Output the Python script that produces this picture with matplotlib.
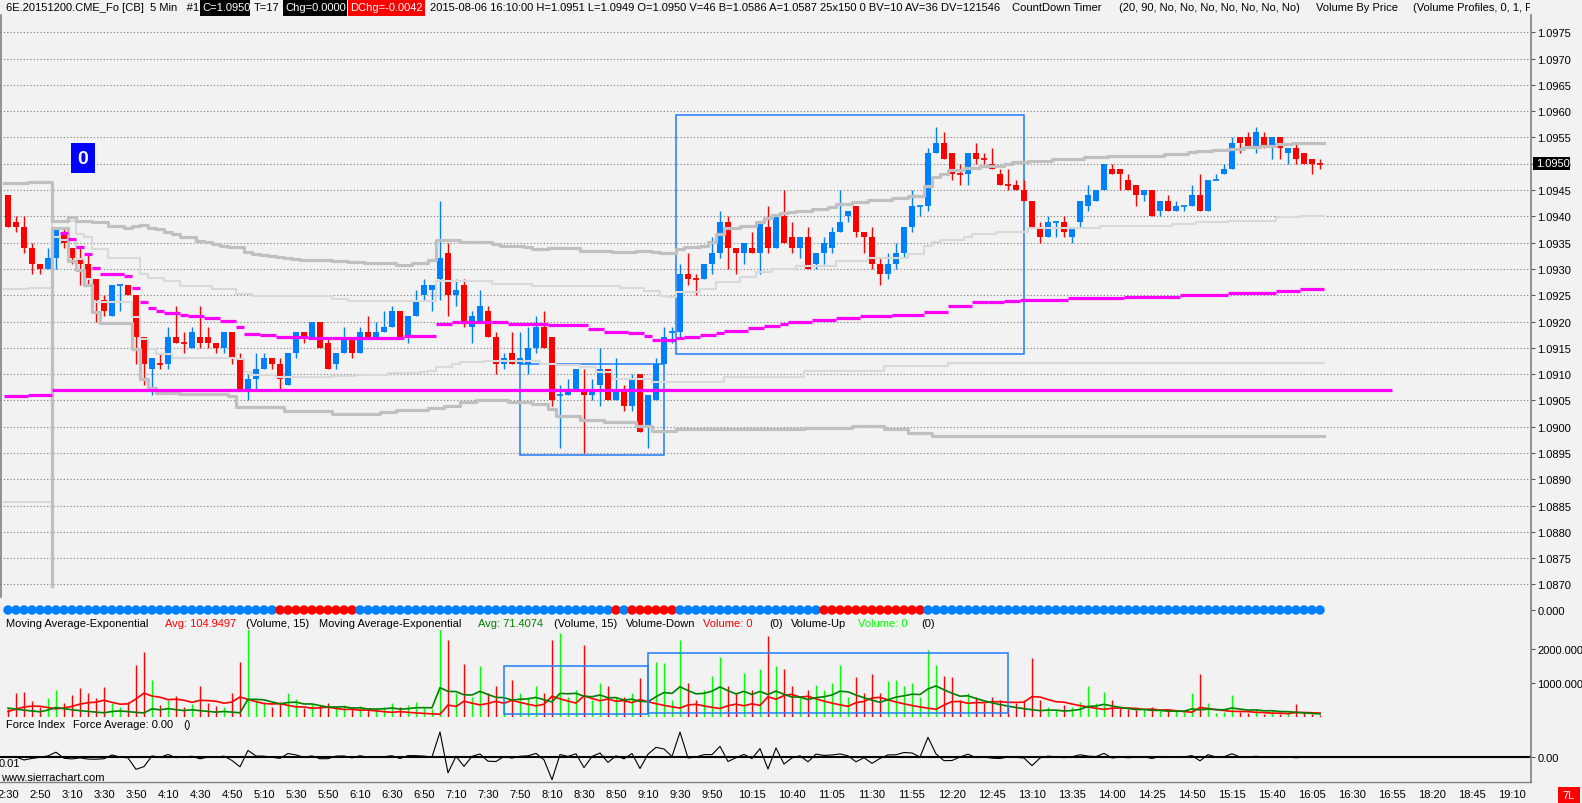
import numpy as np
import matplotlib
matplotlib.use("Agg")
import matplotlib.pyplot as plt
from matplotlib.patches import Rectangle

W, H = 1582, 804
BASE = 1.0900      # prices below are in ticks above this level
TICK = 0.0001
BG = "#f2f2f2"
BLUE = "#0080ff"
RED = "#ff0000"
FS = 8

# 5 min bars, 2:30 .. 16:10
opens = [44, 39, 38, 34, 31, 30, 32, 37, 34, 32, 31, 28, 24, 21, 27, 27, 25, 17, 11, 12,
         12, 17, 16, 15, 17, 17, 16, 15, 18, 13, 7, 9, 11, 13, 12, 8, 14, 18, 17, 20,
         16, 12, 14, 17, 14, 18, 17, 18, 19, 22, 17, 21, 25, 26, 28, 33, 25, 27, 19, 20,
         22, 17, 12, 14, 12, 12, 15, 19, 17, 6, 6, 7, 7, 6, 8, 11, 5, 7, 4, 10,
         0, 5, 12, 18, 18, 29, 28, 28, 31, 33, 39, 34, 33, 34, 33, 38, 34, 40, 36, 34,
         36, 31, 33, 34, 37, 40, 42, 37, 36, 31, 29, 31, 33, 38, 42, 42, 52, 54, 52, 48,
         48, 52, 51, 50, 48, 46, 46, 45, 43, 38, 36, 39, 39, 36, 39, 42, 43, 45, 49, 49,
         47, 46, 44, 45, 41, 43, 41, 42, 42, 44, 41, 47, 48, 49, 55, 55, 53, 55, 53, 55,
         52, 53, 52, 51, 50]
highs = [44, 40, 40, 35, 31, 34, 38, 38, 34, 34, 33, 28, 25, 27, 27, 27, 25, 17, 13, 14,
         19, 23, 18, 19, 23, 19, 16, 18, 18, 14, 10, 14, 14, 13, 13, 14, 18, 18, 20, 20,
         17, 14, 19, 17, 19, 21, 20, 22, 23, 22, 21, 26, 28, 27, 43, 35, 28, 28, 22, 26,
         23, 18, 14, 18, 18, 19, 21, 22, 17, 8, 9, 11, 11, 9, 15, 11, 13, 8, 10, 10,
         6, 13, 19, 19, 31, 33, 29, 31, 36, 41, 40, 34, 35, 37, 39, 42, 40, 45, 39, 36,
         38, 33, 36, 38, 45, 41, 42, 37, 38, 32, 33, 35, 38, 45, 42, 53, 57, 56, 52, 50,
         52, 54, 52, 53, 49, 49, 47, 47, 43, 39, 40, 39, 40, 38, 43, 46, 45, 50, 50, 49,
         48, 46, 45, 45, 43, 44, 43, 42, 46, 48, 47, 48, 50, 55, 55, 56, 57, 56, 55, 55,
         53, 54, 52, 51, 51]
lows = [38, 37, 33, 29, 29, 30, 30, 34, 31, 27, 27, 20, 21, 21, 22, 25, 12, 8, 6, 11,
        11, 16, 14, 15, 15, 15, 14, 14, 12, 7, 5, 7, 11, 11, 7, 8, 13, 16, 17, 15,
        11, 11, 14, 13, 14, 17, 17, 18, 19, 17, 16, 21, 24, 22, 24, 21, 23, 19, 16, 20,
        17, 10, 11, 12, 12, 10, 14, 15, 4, -4, 6, 7, -5, 5, 4, 5, 5, 3, 3, -1,
        -4, 5, 12, 16, 17, 27, 25, 28, 29, 32, 30, 29, 31, 33, 29, 33, 34, 35, 33, 32,
        30, 30, 31, 33, 37, 39, 36, 33, 30, 27, 28, 30, 32, 37, 40, 41, 52, 51, 47, 46,
        46, 50, 50, 49, 46, 45, 45, 43, 38, 35, 36, 36, 36, 35, 38, 41, 43, 45, 48, 45,
        45, 42, 43, 40, 40, 41, 41, 41, 42, 41, 41, 47, 48, 49, 52, 53, 52, 53, 51, 51,
        50, 50, 50, 48, 49]
closes = [38, 38, 34, 31, 30, 32, 38, 35, 32, 31, 28, 24, 22, 27, 27, 25, 17, 12, 13, 12,
          17, 16, 16, 18, 16, 16, 15, 18, 13, 7, 9, 11, 13, 12, 9, 14, 18, 17, 20, 15,
          11, 14, 17, 14, 18, 17, 18, 19, 22, 17, 21, 24, 27, 27, 32, 25, 26, 20, 21, 23,
          17, 12, 13, 12, 13, 15, 19, 15, 5, 6, 7, 11, 6, 7, 11, 5, 7, 4, 9, -1,
          6, 12, 17, 18, 29, 28, 28, 31, 33, 39, 34, 33, 35, 33, 39, 34, 40, 35, 34, 36,
          30, 33, 35, 37, 39, 41, 37, 36, 31, 29, 31, 33, 38, 42, 42, 52, 54, 51, 48, 48,
          52, 51, 51, 49, 46, 46, 45, 43, 38, 36, 39, 39, 37, 38, 43, 44, 45, 50, 48, 48,
          45, 44, 45, 40, 43, 41, 42, 42, 44, 41, 47, 47, 49, 54, 54, 53, 56, 53, 55, 53,
          53, 51, 50, 50, 50]
doji_up = [14, 69, 83, 114, 131, 147, 151]

volumes = [250, 720, 740, 480, 300, 560, 800, 420, 650, 850, 700, 560, 880, 420, 300, 450, 1540, 1920, 1090, 350,
           500, 620, 280, 380, 910, 420, 330, 300, 700, 1630, 3300, 500, 420, 300, 450, 700, 520, 260, 380, 350,
           420, 300, 350, 280, 320, 240, 220, 300, 420, 300, 350, 450, 300, 250, 5000, 2260, 700, 1560, 600, 1510,
           700, 900, 500, 1100, 700, 600, 900, 700, 2270, 2460, 600, 800, 2120, 500, 1000, 900, 600, 600, 700, 1150,
           400, 1610, 1600, 500, 2260, 1000, 500, 800, 1200, 1770, 900, 700, 1300, 800, 1400, 2390, 1500, 1410, 900, 600,
           800, 950, 800, 1000, 1540, 600, 1190, 700, 1280, 700, 1050, 1100, 900, 1000, 600, 1970, 1540, 1215, 1170, 500,
           700, 600, 400, 600, 500, 300, 400, 500, 1735, 500, 300, 200, 350, 300, 450, 920, 400, 725, 500, 300,
           250, 200, 250, 300, 200, 250, 200, 150, 715, 1280, 400, 120, 150, 650, 150, 120, 250, 80, 200, 100,
           120, 380, 120, 80, 46]
ema_seed_down = 150
ema_seed_up = 300
ema_len = 15

# developing volume profile lines: bar where a level starts, level in ticks
vah_start = [0, 3, 6, 8, 9, 11, 13, 15, 16, 17, 18, 19, 20, 21, 22, 24, 25, 26, 27, 28,
             30, 31, 32, 33, 34, 35, 36, 37, 41, 43, 45, 49, 51, 53, 54, 57, 61, 62, 65, 66,
             68, 72, 76, 79, 81, 82, 84, 85, 87, 88, 89, 90, 92, 94, 95, 96, 97, 98, 99, 101,
             103, 104, 106, 108, 111, 113, 115, 116, 117, 118, 120, 122, 125, 126, 128, 131, 135, 138, 145, 148,
             149, 151, 153, 155, 157, 159, 161]
vah_val = [46.3, 46.6, 39.1, 39.9, 39.1, 38.9, 38.2, 37.8, 38.2, 38.35, 37.8, 37.6, 37.0, 36.6, 36.1, 35.3, 35.1, 34.7, 34.4, 34.2,
           33.2, 32.8, 32.65, 32.5, 32.3, 32.1, 31.9, 31.7, 31.5, 31.3, 31.1, 30.75, 31.1, 31.7, 35.5, 35.1, 34.7, 34.4, 34.2, 33.8,
           34.0, 33.4, 33.2, 33.4, 33.2, 33.0, 33.8, 34.2, 34.4, 35.1, 36.6, 37.8, 38.2, 38.9, 39.7, 40.3, 40.6, 40.8, 41.0, 41.4,
           41.8, 42.35, 42.7, 43.1, 43.5, 43.9, 45.8, 47.5, 48.05, 48.8, 49.2, 49.6, 49.95, 50.3, 50.5, 50.9, 51.3, 51.5, 51.85, 52.2,
           52.4, 52.6, 52.8, 53.2, 53.4, 53.75, 53.95]
val_start = [6, 6, 8, 9, 10, 11, 12, 16, 17, 18, 19, 22, 28, 29, 35, 41, 47, 49, 53, 55,
             57, 59, 63, 66, 68, 69, 72, 75, 79, 81, 84, 100, 106, 110, 113, 116]
val_val = [-30.3, 37.8, 31.5, 29.8, 26.9, 21.8, 19.7, 14.8, 9.1, 7.4, 6.4, 6.2, 5.8, 3.7, 3.0, 2.4, 2.8, 3.2, 3.55, 3.9,
           4.7, 5.1, 4.7, 4.3, 3.35, 2.0, 1.3, 0.9, 0.1, -0.8, -0.45, -0.3, 0.1, -0.45, -1.2, -1.8]
tu_start = [0, 3, 6, 9, 10, 11, 13, 17, 18, 20, 22, 26, 29, 31, 41, 43, 54, 61, 66, 77,
            80, 82, 83, 84, 87, 89, 92, 94, 96, 99, 104, 108, 113, 115, 116, 117, 120, 121, 124, 128,
            137, 146, 149, 153, 159, 162]
tu_val = [26.2, 26.4, 39.1, 36.6, 36.1, 33.8, 32.1, 29.0, 28.3, 27.7, 26.75, 26.2, 25.2, 24.85, 24.3, 23.9, 27.7, 27.1, 26.75, 26.4,
          25.8, 24.85, 24.7, 25.6, 26.2, 27.5, 28.5, 29.4, 29.95, 30.6, 31.5, 32.1, 32.8, 34.4, 35.1, 35.5, 36.1, 36.6, 37.0, 37.8,
          38.2, 38.5, 38.9, 39.1, 39.9, 40.1]
tl_start = [0, 6, 7, 9, 10, 11, 16, 17, 18, 19, 21, 29, 30, 31, 34, 41, 44, 48, 52, 53,
            54, 56, 57, 60, 67, 69, 72, 74, 76, 81, 90, 100, 110, 118]
tl_val = [-14.3, 36.1, 35.5, 31.9, 28.0, 23.7, 20.85, 16.7, 14.8, 13.85, 13.1, 12.9, 10.4, 9.8, 9.45, 9.6, 9.8, 10.2, 10.4, 10.6,
          11.35, 11.9, 12.3, 12.5, 11.9, 11.7, 11.35, 10.4, 9.1, 8.5, 9.5, 10.5, 11.5, 12.1]
poc1_start = [0, 3]
poc1_val = [5.9, 6.1]
poc1_end = 6
poc2_start = [7, 8, 9, 10, 11, 12, 15, 16, 17, 18, 19, 20, 22, 23, 25, 27, 29, 30, 32, 34,
              38, 41, 50, 54, 56, 57, 61, 63, 68, 73, 75, 78, 80, 81, 82, 84, 85, 87, 89, 90,
              93, 95, 97, 98, 101, 104, 107, 111, 115, 118, 121, 123, 125, 127, 133, 140, 147, 153, 159, 162]
poc2_val = [36.8, 35.6, 34.2, 32.8, 30.2, 29.0, 28.6, 26.4, 23.7, 22.6, 22.0, 21.6, 21.2, 21.05, 20.7, 20.1, 18.95, 17.6, 17.4, 17.05,
            16.9, 16.9, 17.3, 19.5, 19.85, 19.95, 19.85, 19.6, 19.3, 18.6, 18.05, 17.75, 17.3, 16.55, 16.4, 16.8, 17.1, 17.4, 17.9, 18.25,
            18.7, 19.1, 19.5, 19.95, 20.3, 20.6, 21.0, 21.2, 21.75, 23.0, 23.65, 23.8, 23.95, 24.1, 24.4, 24.7, 25.1, 25.5, 25.8, 26.1]
prior_poc = 7.0
prior_poc_span = (5.5, 173)

price_boxes = [(64, 82, -5.3, 12.0), (83.5, 127, 13.9, 59.2)]
vol_boxes = [(62, 80, 90, 1500), (80, 125, 118, 1873)]

dot_red = list(range(34, 44)) + [76] + list(range(78, 84)) + list(range(102, 115))

time_bars = list(range(0, 85, 4)) + list(range(88, 189, 5))
time_labels = ["2:30", "2:50", "3:10", "3:30", "3:50", "4:10", "4:30", "4:50", "5:10", "5:30", "5:50",
               "6:10", "6:30", "6:50", "7:10", "7:30", "7:50", "8:10", "8:30", "8:50", "9:10", "9:30",
               "9:50", "10:15", "10:40", "11:05", "11:30", "11:55", "12:20", "12:45", "13:10", "13:35",
               "14:00", "14:25", "14:50", "15:15", "15:40", "16:05", "16:30", "16:55", "18:20", "18:45", "19:10"]

plt.rcParams["font.family"] = ["Liberation Sans", "DejaVu Sans"]
plt.rcParams["font.size"] = FS

fig = plt.figure(figsize=(W / 100, H / 100), dpi=100)
fig.patch.set_facecolor(BG)


def px_axes(x0, y0, x1, y1):
    a = fig.add_axes([x0 / W, 1 - y1 / H, (x1 - x0) / W, (y1 - y0) / H])
    a.set_facecolor("none")
    for s in a.spines.values():
        s.set_visible(False)
    a.set_xlim(-1, (1531 - 8) / 8)
    a.yaxis.tick_right()
    a.tick_params(axis="y", length=3, width=0.8, color="#555555", pad=1.5, labelsize=FS)
    a.tick_params(axis="x", length=0, labelbottom=False)
    return a


def pr(t):
    return BASE + np.asarray(t, dtype=float) * TICK


def steps(ax, starts, vals, end, **kw):
    xs = np.r_[np.asarray(starts, dtype=float) - 0.5, end - 0.5]
    ys = np.r_[vals, vals[-1]]
    ax.step(xs, pr(ys), where="post", **kw)


n = len(opens)
x = np.arange(n)
o = np.array(opens, dtype=float)
h = np.array(highs, dtype=float)
l = np.array(lows, dtype=float)
c = np.array(closes, dtype=float)
v = np.array(volumes, dtype=float)
up = (c > o) | np.isin(x, doji_up)
col = np.where(up, BLUE, RED)

# ---- price panel
ax = px_axes(0, 16, 1531, 598)
ax.set_ylim(1.08676, 1.09783)
yt = np.arange(1.0870, 1.09751, 0.0005)
ax.set_yticks(yt)
ax.set_yticklabels(["%.4f" % t for t in yt])
for t in yt:
    ax.axhline(t, color="#7a7a7a", lw=0.8, ls=(0, (1, 2)), zorder=0)

for x0, x1, lo, hi in price_boxes:
    ax.add_patch(Rectangle((x0, pr(lo)), x1 - x0, (hi - lo) * TICK, fill=False,
                           edgecolor="#1f7cff", lw=1.1, zorder=1))

ax.vlines(x, pr(l), pr(h), colors=col, lw=1.0, zorder=2)
body = np.abs(c - o)
nz = body > 0
ax.bar(x[nz], body[nz] * TICK, bottom=pr(np.minimum(o, c)[nz]), width=0.78,
       color=col[nz], linewidth=0, zorder=2)
ax.hlines(pr(o[~nz]), x[~nz] - 0.39, x[~nz] + 0.39, colors=col[~nz], lw=1.3, zorder=2)

steps(ax, tu_start, tu_val, n, color="#d9d9d9", lw=1.5, zorder=3)
steps(ax, tl_start, tl_val, n, color="#d9d9d9", lw=1.5, zorder=3)
steps(ax, vah_start, vah_val, n, color="#c0c0c0", lw=2.3, zorder=4)
steps(ax, val_start, val_val, n, color="#c0c0c0", lw=2.3, zorder=4)

ends1 = poc1_start[1:] + [poc1_end]
ax.hlines(pr(poc1_val), np.array(poc1_start) - 0.5, np.array(ends1) - 0.5, colors="#ff00ff", lw=2.3, zorder=5)
ends2 = poc2_start[1:] + [n]
ax.hlines(pr(poc2_val), np.array(poc2_start) - 0.5, np.array(ends2) - 0.5, colors="#ff00ff", lw=2.3, zorder=5)
ax.hlines(pr(prior_poc), prior_poc_span[0], prior_poc_span[1], colors="#ff00ff", lw=2.3, zorder=5)

# ---- status dots
axd = px_axes(0, 601, 1531, 621)
axd.set_ylim(-1, 1)
dcol = np.where(np.isin(x, dot_red), RED, BLUE)
axd.scatter(x, np.zeros(n), s=46, c=dcol, linewidths=0, zorder=2)
axd.set_yticks([0])
axd.set_yticklabels(["0.000"])

# ---- volume panel
axv = px_axes(0, 631, 1531, 718)
axv.set_ylim(0, 2560)
vcol = np.where(up, "#00ff00", RED)
axv.vlines(x, 0, v, colors=vcol, lw=1.0, zorder=2)
down_v = np.where(up, 0.0, v)
up_v = np.where(up, v, 0.0)


def ema(vals, seed, length):
    a = 2.0 / (length + 1)
    out, e = [], seed
    for val in vals:
        e = e + a * (val - e)
        out.append(e)
    return np.array(out)


axv.plot(x, ema(down_v, ema_seed_down, ema_len), color=RED, lw=1.2, zorder=3)
axv.plot(x, ema(up_v, ema_seed_up, ema_len), color="#008000", lw=1.2, zorder=3)
for x0, x1, lo, hi in vol_boxes:
    axv.add_patch(Rectangle((x0, lo), x1 - x0, hi - lo, fill=False, edgecolor="#1f7cff", lw=1.1, zorder=4))
axv.set_yticks([1000, 2000])
axv.set_yticklabels(["1000.000", "2000.000"])

# ---- force index
axf = px_axes(0, 729, 1531, 783)
axf.set_ylim(-2.5, 2.9)
force = np.r_[0.0, np.diff(c) * TICK * v[1:]]
axf.axhline(0, color="black", lw=1.5, zorder=1)
axf.plot(x, force, color="black", lw=0.8, zorder=2)
axf.set_yticks([0])
axf.set_yticklabels(["0.00"])
axf.set_xticks(time_bars)
axf.set_xticklabels(time_labels)
axf.tick_params(axis="x", length=0, pad=5, labelbottom=True, labelsize=FS)

# ---- overlay: frames and texts in pixel coordinates
ov = fig.add_axes([0, 0, 1, 1])
ov.set_xlim(0, W)
ov.set_ylim(H, 0)
ov.axis("off")
ov.set_zorder(10)
ov.patch.set_alpha(0)

ov.plot([1531, 1531], [16, 783], color="#808080", lw=1.2)
ov.plot([0, 1531], [783, 783], color="#808080", lw=1.0)
ov.plot([0.7, 0.7], [16, 598], color="#808080", lw=1.2)

clip = Rectangle((0, 0), 1530, 17, transform=ov.transData)


def txt(xp, yp, s, color="black", **kw):
    t = ov.text(xp, yp, s, color=color, fontsize=FS, va="center", ha="left", **kw)
    t.set_clip_on(True)
    t.set_clip_path(clip)
    return t


def box(x0, y0, x1, y1, color):
    ov.add_patch(Rectangle((x0, y0), x1 - x0, y1 - y0, color=color, lw=0))


box(200, 0, 250, 16.5, "black")
box(283, 0, 347, 16.5, "black")
box(348, 0, 425, 16.5, RED)
txt(6, 8, "6E.20151200.CME_Fo [CB]  5 Min   #1")
txt(202, 8, "C=1.0950", "white")
txt(254, 8, "T=17")
txt(285, 8, "Chg=0.0000", "white")
txt(350, 8, "DChg=-0.0042", "white")
txt(430, 8, "2015-08-06 16:10:00 H=1.0951 L=1.0949 O=1.0950 V=46 B=1.0586 A=1.0587 25x150 0 BV=10 AV=36 DV=121546")
txt(1012, 8, "CountDown Timer")
txt(1119, 8, "(20, 90, No, No, No, No, No, No, No)")
txt(1316, 8, "Volume By Price")
txt(1413, 8, "(Volume Profiles, 0, 1, Fa")

box(1533, 157.5, 1570, 171, "black")
ov.text(1536, 164, "1.0950", color="white", fontsize=FS, va="center", ha="left")

box(71, 144, 95, 173.5, "#0000ff")
ov.text(83, 159, "0", color="white", fontsize=14, fontweight="bold", va="center", ha="center")

vy = 624.5
for xp, s, cl in [(6, "Moving Average-Exponential", "black"), (165, "Avg: 104.9497", RED),
                  (246, "(Volume, 15)", "black"), (319, "Moving Average-Exponential", "black"),
                  (478, "Avg: 71.4074", "#008000"), (554, "(Volume, 15)", "black"),
                  (626, "Volume-Down", "black"), (703, "Volume: 0", RED), (769, "(0)", "black"),
                  (791, "Volume-Up", "black"), (858, "Volume: 0", "#00ff00"), (921, "(0)", "black")]:
    ov.text(xp, vy, s, color=cl, fontsize=FS, va="center", ha="left")

for xp, s in [(6, "Force Index"), (73, "Force Average: 0.00"), (183, "()")]:
    ov.text(xp, 725.5, s, fontsize=FS, va="center", ha="left")
ov.text(-1, 764, "0.01", fontsize=FS, va="center", ha="left")
ov.text(1, 778, "www.sierrachart.com", fontsize=FS, va="center", ha="left")

box(1558, 788, 1580, 804, RED)
ov.text(1569, 796, "7L", color="white", fontsize=FS, va="center", ha="center")

fig.savefig("out.png", dpi=100, facecolor=BG)
